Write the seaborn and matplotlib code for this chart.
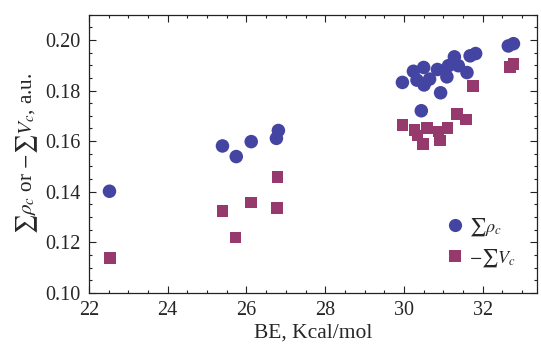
import numpy as np
import pandas as pd
import matplotlib
matplotlib.use("Agg")
import matplotlib.pyplot as plt
import seaborn as sns
from matplotlib.ticker import MultipleLocator
from matplotlib.lines import Line2D

# Data
be_rho = [22.52, 25.39, 25.74, 26.12, 26.76, 26.81,
          29.96, 30.24, 30.33, 30.50, 30.51, 30.65, 30.85, 31.09, 30.93, 30.44,
          31.13, 31.28, 31.38, 31.60, 31.68, 31.82, 32.65, 32.78]
rho = [0.1402, 0.1581, 0.1539, 0.1598, 0.1611, 0.1642,
       0.1832, 0.1876, 0.1841, 0.1891, 0.1822, 0.1845, 0.1883, 0.1854, 0.1791, 0.1720,
       0.1898, 0.1933, 0.1898, 0.1871, 0.1937, 0.1946, 0.1976, 0.1985]

be_v = [22.53, 25.39, 25.72, 26.12, 26.77, 26.79,
        29.96, 30.27, 30.34, 30.58, 30.48, 30.88, 30.92, 31.11, 31.34, 31.58,
        31.75, 32.69, 32.78]
v = [0.1138, 0.1323, 0.1219, 0.1357, 0.1337, 0.1458,
     0.1664, 0.1644, 0.1622, 0.1652, 0.1589, 0.1638, 0.1602, 0.1652, 0.1708, 0.1685,
     0.1818, 0.1894, 0.1904]

lab_rho = r"$\sum\rho_c$"
lab_v = r"$-\sum V_c$"

df = pd.concat([
    pd.DataFrame({"BE": be_rho, "val": rho, "series": lab_rho}),
    pd.DataFrame({"BE": be_v, "val": v, "series": lab_v}),
], ignore_index=True)

sns.set_style("ticks")
plt.rcParams["font.family"] = ["Liberation Serif", "DejaVu Serif"]
plt.rcParams["mathtext.fontset"] = "stix"

c_rho = "#4444A2"
c_v = "#963A6E"

fig = plt.figure(figsize=(5.41, 3.47), dpi=100)
ax = fig.add_axes([0.1645, 0.1556, 0.8275, 0.8024])

sns.scatterplot(data=df, x="BE", y="val", hue="series", style="series",
                palette={lab_rho: c_rho, lab_v: c_v},
                markers={lab_rho: "o", lab_v: "s"},
                size="series", sizes={lab_rho: 95, lab_v: 70},
                linewidth=0, ax=ax, legend=False)

ax.set_xlim(22, 33.37)
ax.set_ylim(0.10, 0.21)
ax.xaxis.set_major_locator(MultipleLocator(2))
ax.xaxis.set_minor_locator(MultipleLocator(0.5))
ax.yaxis.set_major_locator(MultipleLocator(0.02))
ax.yaxis.set_minor_locator(MultipleLocator(0.005))
ax.yaxis.set_major_formatter(matplotlib.ticker.FormatStrFormatter("%.2f"))
ax.tick_params(which="both", direction="in", top=True, right=True,
               labelsize=14.5, color="#222222", width=0.8)
ax.tick_params(axis="x", which="both", pad=6)
ax.tick_params(axis="y", which="both", pad=6)
ax.tick_params(which="major", length=5)
ax.tick_params(which="minor", length=2.5)
for s in ax.spines.values():
    s.set_linewidth(0.9)
    s.set_color("#222222")

ax.set_xlabel("BE, Kcal/mol", fontsize=15.5, labelpad=2)
ax.set_ylabel(r"$\sum\rho_c$ or $-\sum V_c$, a.u.", fontsize=15.2, labelpad=4)

handles = [Line2D([], [], marker="o", linestyle="", color=c_rho, markersize=9.5, markeredgewidth=0),
           Line2D([], [], marker="s", linestyle="", color=c_v, markersize=8, markeredgewidth=0)]
ax.legend(handles, [lab_rho, lab_v], loc="lower left", bbox_to_anchor=(0.79, 0.075),
          frameon=False, fontsize=13, handletextpad=0.25, labelspacing=0.5,
          handlelength=1.0, borderaxespad=0, borderpad=0.2)

fig.savefig("out.png", dpi=100)
